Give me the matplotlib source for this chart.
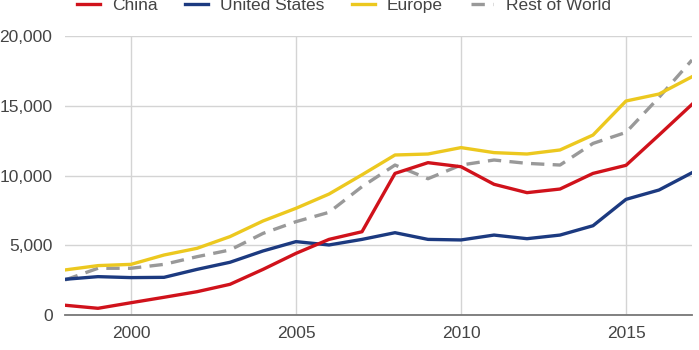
import matplotlib
matplotlib.use("Agg")
import matplotlib.pyplot as plt

plt.rcParams['font.family'] = ['Liberation Sans', 'DejaVu Sans']

years = list(range(1998, 2018))
china = [700, 480, 880, 1270, 1670, 2200, 3270, 4420, 5420, 5970, 10150, 10920,
         10630, 9370, 8770, 9030, 10150, 10730, 12900, 15100]
united_states = [2560, 2750, 2680, 2700, 3270, 3780, 4590, 5260, 5020, 5420, 5900, 5420,
                 5380, 5730, 5470, 5730, 6400, 8290, 8960, 10200]
europe = [3230, 3540, 3630, 4300, 4780, 5620, 6740, 7650, 8670, 10050, 11470, 11540,
          12000, 11640, 11540, 11830, 12900, 15340, 15840, 17080]
rest_of_world = [2510, 3350, 3350, 3630, 4180, 4660, 5850, 6690, 7360, 9200, 10750, 9770,
                 10750, 11110, 10870, 10750, 12300, 13090, 15600, 18280]

series_names = ["China", "United States", "Europe", "Rest of World"]
x_ticks = [2000, 2005, 2010, 2015]
y_ticks = [0, 5000, 10000, 15000, 20000]
y_tick_labels = ["0", "5,000", "10,000", "15,000", "20,000"]

fig = plt.figure(figsize=(6.99, 3.5), dpi=100)
ax = fig.add_axes([65/699, 1 - 315/350, (692-65)/699, (315-36)/350])

ax.plot(years, rest_of_world, color="#999999", lw=2.4, ls=(0, (4, 2.5)), label=series_names[3], zorder=3)
ax.plot(years, united_states, color="#1c3a80", lw=2.4, label=series_names[1], zorder=4)
ax.plot(years, europe, color="#ecc81f", lw=2.4, label=series_names[2], zorder=4)
ax.plot(years, china, color="#d0121b", lw=2.4, label=series_names[0], zorder=5)

ax.set_xlim(1998, 2017)
ax.set_ylim(0, 20000)
ax.set_xticks(x_ticks)
ax.set_xticklabels([str(v) for v in x_ticks])
ax.set_yticks(y_ticks)
ax.set_yticklabels(y_tick_labels)

ax.grid(True, color="#d4d4d4", lw=1)
ax.set_axisbelow(True)
for s in ["top", "right", "left"]:
    ax.spines[s].set_visible(False)
ax.spines["bottom"].set_color("#777777")
ax.spines["bottom"].set_linewidth(1.3)
ax.tick_params(axis="both", length=0, labelsize=12.5, colors="#444444")
ax.tick_params(axis="y", pad=9)
ax.tick_params(axis="x", pad=8)

handles, labels = ax.get_legend_handles_labels()
hmap = {l: h for h, l in zip(handles, labels)}
fig.legend([hmap[n] for n in series_names], series_names, loc="center",
           bbox_to_anchor=(0.492, 0.985), ncol=4, frameon=False, fontsize=12.5,
           handlelength=1.3, handletextpad=0.7, columnspacing=1.6, labelcolor="#444444")

fig.savefig("out.png", dpi=100)
